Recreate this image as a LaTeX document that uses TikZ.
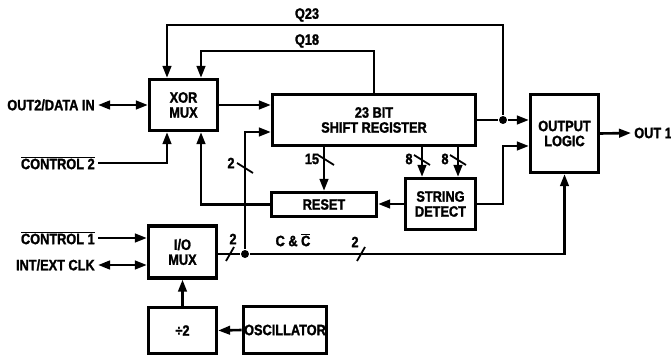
\documentclass[tikz,border=0pt]{standalone}
\usepackage{fontspec}
\setmainfont{Liberation Sans}[FakeStretch=0.85,FakeBold=1.5]
\usetikzlibrary{arrows.meta,positioning,calc}
\newcommand\ovl[1]{$\overline{\mbox{#1}}$}

\begin{document}
\begin{tikzpicture}[x=1pt,y=-1pt,>={Triangle[length=12pt,width=8.5pt]},
    line width=2.6pt,
    font=\fontsize{15}{15}\selectfont\bfseries,
    blk/.style={draw,line width=3.2pt,align=center,inner sep=1pt},
    lbl/.style={inner sep=2pt},
    jdot/.style={circle,fill,inner sep=0pt,minimum size=8pt},
    busmark/.style={line width=1.8pt}]
  \useasboundingbox (0,0) rectangle (671,358);
  % blocks
  \node[blk,minimum width=68pt,minimum height=51pt] (xor) at (183.5,105) {XOR\\MUX};
  \node[blk,minimum width=203pt,minimum height=51pt] (sr) at (374,120) {23 BIT\\SHIFT REGISTER};
  \node[blk,minimum width=68pt,minimum height=78pt] (outl) at (564.5,133.5) {OUTPUT\\LOGIC};
  \node[blk,minimum width=105pt,minimum height=24pt] (reset) at (324,204.5) {RESET};
  \node[blk,minimum width=70pt,minimum height=51pt] (sd) at (440.5,204) {STRING\\DETECT};
  \node[blk,minimum width=68pt,minimum height=52pt] (iomux) at (182.5,252) {I/O\\MUX};
  \node[blk,minimum width=68pt,minimum height=46pt] (div) at (182.5,330.5) {÷2};
  \node[blk,minimum width=77pt,minimum height=47pt] (osc) at (285,330) {OSCILLATOR};
  % outside signals
  \node[lbl,anchor=east] (out2) at (98,105) {OUT2/DATA IN};
  \node[lbl,anchor=east] (ctl2) at (98,163) {\ovl{CONTROL 2}};
  \node[lbl,anchor=east] (ctl1) at (98,238) {\ovl{CONTROL 1}};
  \node[lbl,anchor=east] (intext) at (98,265) {INT/EXT CLK};
  \node[lbl,anchor=west] (out1) at (631,133) {OUT 1};
  \node[lbl] (q23) at (307,15) {Q23};
  \node[lbl] (q18) at (307,41) {Q18};
  \node[lbl] (cc) at (293,240) {C \& \ovl{C}};
  % bus widths
  \node[lbl] (w2a) at (231,163) {2};
  \node[lbl] (w15) at (312,159) {15};
  \node[lbl] (w8a) at (409,159) {8};
  \node[lbl] (w8b) at (445,159) {8};
  \node[lbl] (w2b) at (233,239) {2};
  \node[lbl] (w2c) at (355,242) {2};
  % junctions
  \node[jdot] (ja) at (503,120) {};
  \node[jdot] (jb) at (245,254) {};
  % connectors
  \draw[<->] (out2.east) -- (out2.east -| xor.west);
  \draw[->] (ctl2.east) -| ([xshift=-16.5pt]xor.south);
  \draw[->] (xor.east) -- (xor.east -| sr.west);
  \draw (sr.east) -- (ja);
  \draw[->] (ja) -- (ja -| outl.west);
  \draw[->] (ja) -- ++(0,-95) -| ([xshift=-16.5pt]xor.north);
  \draw[->] (sr.north) -- ++(0,-42) -| ([xshift=17.5pt]xor.north);
  \draw[->] (reset.north |- sr.south) -- (reset.north);
  \draw[->] ([xshift=-18.5pt]sd.north |- sr.south) -- ([xshift=-18.5pt]sd.north);
  \draw[->] ([xshift=17.5pt]sd.north |- sr.south) -- ([xshift=17.5pt]sd.north);
  \draw[->] (sd.west) -- (sd.west -| reset.east);
  \draw[->] (reset.west) -| ([xshift=17.5pt]xor.south);
  \draw[->] (sd.east) -- (sd.east -| ja) |- ([yshift=-12.5pt]outl.west);
  \draw[->] (outl.east) -- (out1.west);
  \draw[->] (ctl1.east) -- (ctl1.east -| iomux.west);
  \draw[<->] (intext.east) -- (intext.east -| iomux.west);
  \draw (iomux.east |- jb) -- (jb);
  \draw[->] (jb) |- ([yshift=-12pt]sr.west);
  \draw[->] (jb) -| (outl.south);
  \draw[->] (div.north) -- (iomux.south);
  \draw[->] (osc.west) -- (div.east);
  % bus slashes
  \foreach \x/\y in {245/168,326/160,422/160,458/160}
    \draw[busmark] (\x-8,\y-5) -- (\x+8,\y+5);
  \foreach \x in {230,361}
    \draw[busmark] (\x-4,261) -- (\x+4,247);
\end{tikzpicture}
\end{document}
